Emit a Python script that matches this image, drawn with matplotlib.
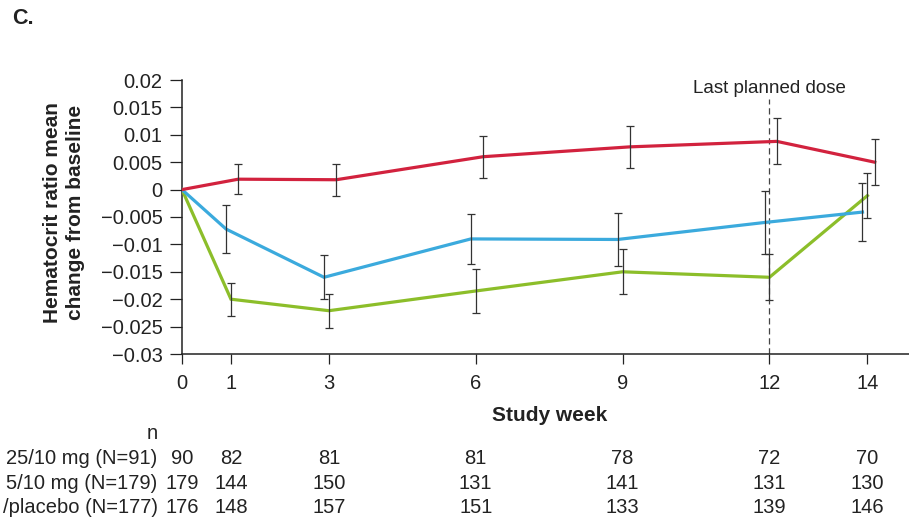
import numpy as np
import matplotlib
matplotlib.use("Agg")
import matplotlib.pyplot as plt

plt.rcParams['font.family'] = ['Liberation Sans', 'DejaVu Sans']

weeks = [0, 1, 3, 6, 9, 12, 14]

# mean change from baseline and half-width of the error bars
red_mean = [0, 0.0019, 0.0018, 0.0060, 0.0078, 0.0088, 0.0050]
red_err = [0, 0.0027, 0.0029, 0.0038, 0.0038, 0.0042, 0.0042]
blue_mean = [0, -0.0072, -0.0160, -0.0090, -0.0091, -0.0060, -0.0041]
blue_err = [0, 0.0043, 0.0040, 0.0045, 0.0048, 0.0058, 0.0053]
green_mean = [0, -0.0200, -0.0221, -0.0185, -0.0150, -0.0160, -0.0011]
green_err = [0, 0.0030, 0.0031, 0.0040, 0.0041, 0.0042, 0.0041]

row_labels = ['25/10 mg (N=91)', '5/10 mg (N=179)', '/placebo (N=177)']
n_red = [90, 82, 81, 81, 78, 72, 70]
n_blue = [179, 144, 150, 131, 141, 131, 130]
n_green = [176, 148, 157, 151, 133, 139, 146]

c_red = '#D2223E'
c_blue = '#3BAADD'
c_green = '#8CBE2A'
c_err = '#333333'
c_txt = '#222222'

fig = plt.figure(figsize=(9.09, 5.23), dpi=100)
ax = fig.add_axes([182 / 909, 1 - 354 / 523, 727 / 909, 274 / 523])

series = [
    (green_mean, green_err, c_green, 0.0),
    (blue_mean, blue_err, c_blue, -0.1),
    (red_mean, red_err, c_red, 0.15),
]
for mean, err, col, shift in series:
    x = np.array(weeks, dtype=float) + shift
    x[0] = 0
    ax.plot(x, mean, color=col, lw=2.3, zorder=3, solid_joinstyle='miter')
    ax.errorbar(x[1:], mean[1:], yerr=err[1:], fmt='none', ecolor=c_err,
                elinewidth=0.9, capsize=2.6, capthick=0.9, zorder=4)

ax.plot([12, 12], [-0.03, 0.0165], color='#444444', lw=0.9,
        ls=(0, (5, 3)), zorder=2)
ax.text(12, 0.0185, 'Last planned dose', ha='center', va='center',
        fontsize=13.5, color=c_txt)

ax.set_xlim(0, 14.85)
ax.set_ylim(-0.03, 0.02)
ax.set_xticks(weeks)
ax.set_yticks(np.arange(-0.03, 0.0201, 0.005))
ax.set_yticklabels(['\u22120.03', '\u22120.025', '\u22120.02', '\u22120.015',
                    '\u22120.01', '\u22120.005', '0', '0.005', '0.01',
                    '0.015', '0.02'])
ax.tick_params(axis='y', length=9, width=0.9, labelsize=14.5, pad=5,
               colors=c_txt)
ax.tick_params(axis='x', length=7, width=0.9, labelsize=14.5, pad=7.5,
               colors=c_txt)
for s in ['top', 'right']:
    ax.spines[s].set_visible(False)
for s in ['left', 'bottom']:
    ax.spines[s].set_linewidth(1.1)
    ax.spines[s].set_color(c_txt)

ax.set_ylabel('Hematocrit ratio mean\nchange from baseline', fontsize=15,
              fontweight='bold', linespacing=1.3, color=c_txt)
ax.yaxis.set_label_coords(-0.133, 0.518)

tr = ax.get_xaxis_transform()
ax.text(7.5, -0.226, 'Study week', transform=tr, ha='center', va='center',
        fontsize=15, fontweight='bold', clip_on=False, color=c_txt)
ax.text(-0.6, -0.29, 'n', transform=tr, ha='center', va='center',
        fontsize=14.5, clip_on=False, color=c_txt)

row_y = [-0.380, -0.471, -0.562]
for lab, counts, yy in zip(row_labels, [n_red, n_blue, n_green], row_y):
    ax.text(-0.5, yy, lab, transform=tr, ha='right', va='center',
            fontsize=14.5, clip_on=False, color=c_txt)
    for wk, n in zip(weeks, counts):
        ax.text(wk, yy, str(n), transform=tr, ha='center', va='center',
                fontsize=14.5, clip_on=False, color=c_txt)

fig.text(12 / 909, 1 - 19 / 523, 'C.', fontsize=15.5, fontweight='bold',
         ha='left', va='center', color=c_txt)

fig.savefig('out.png', dpi=100)
